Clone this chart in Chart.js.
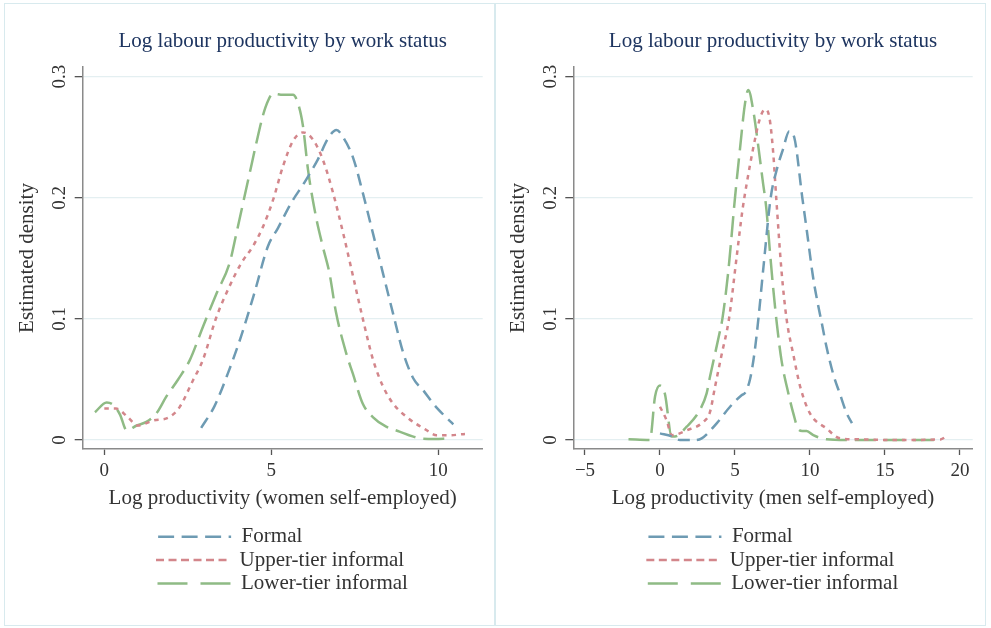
<!DOCTYPE html>
<html>
<head>
<meta charset="utf-8">
<script src="https://cdn.jsdelivr.net/npm/chart.js@4.4.1/dist/chart.umd.min.js"></script>
<style>
	body { margin: 0; background: #fff; }
	.panel { position: absolute; top: 3px; width: 489px; height: 621px; border: 1px solid #d8eaee; }
	.panel canvas { display: block; }
	#left { left: 4px; }
	#right { left: 495px; }
</style>
</head>
<body>
<div class="panel" id="left"><canvas id="womenChart" width="489" height="621"></canvas></div>
<div class="panel" id="right"><canvas id="menChart" width="489" height="621"></canvas></div>
<script>
const seriesLabels = ['Formal', 'Upper-tier informal', 'Lower-tier informal']
const yTicks = [0, 0.1, 0.2, 0.3]
const womenXTicks = [0, 5, 10]
const menXTicks = [-5, 0, 5, 10, 15, 20]

// women self-employed
const womenFormalX = [2.9, 3.3, 3.7, 4.1, 4.5, 4.9, 5.2, 5.6, 6.0, 6.4, 6.7, 6.95, 7.15, 7.45, 7.75, 8.05, 8.35, 8.65, 8.95, 9.25, 9.55, 9.85, 10.15, 10.45]
const womenFormalY = [0.010, 0.028, 0.055, 0.086, 0.122, 0.160, 0.175, 0.196, 0.213, 0.232, 0.249, 0.256, 0.250, 0.233, 0.203, 0.170, 0.137, 0.104, 0.072, 0.051, 0.041, 0.030, 0.021, 0.013]
const womenUpperX = [0.0, 0.35, 0.7, 1.0, 1.45, 1.95, 2.25, 2.65, 2.95, 3.35, 3.75, 4.1, 4.45, 4.75, 5.05, 5.35, 5.65, 5.95, 6.25, 6.55, 6.85, 7.15, 7.45, 7.75, 8.05, 8.35, 8.65, 9.1, 9.6, 9.95, 10.35, 10.8]
const womenUpperY = [0.026, 0.026, 0.019, 0.012, 0.016, 0.019, 0.027, 0.049, 0.066, 0.101, 0.127, 0.146, 0.160, 0.176, 0.198, 0.226, 0.247, 0.254, 0.248, 0.231, 0.204, 0.171, 0.135, 0.099, 0.066, 0.044, 0.030, 0.018, 0.009, 0.004, 0.004, 0.005]
const womenLowerX = [-0.28, 0.07, 0.27, 0.47, 0.67, 0.97, 1.26, 1.56, 1.86, 2.21, 2.56, 2.96, 3.36, 3.75, 3.95, 4.15, 4.35, 4.55, 4.75, 4.9, 5.05, 5.35, 5.65, 5.8, 5.95, 6.1, 6.34, 6.54, 6.74, 6.94, 7.24, 7.44, 7.74, 8.04, 8.44, 8.84, 9.23, 9.53, 9.9, 10.28]
const womenLowerY = [0.023, 0.031, 0.029, 0.021, 0.008, 0.012, 0.015, 0.022, 0.036, 0.050, 0.066, 0.094, 0.121, 0.146, 0.170, 0.195, 0.220, 0.245, 0.268, 0.280, 0.286, 0.285, 0.285, 0.278, 0.259, 0.223, 0.184, 0.160, 0.138, 0.105, 0.072, 0.055, 0.030, 0.019, 0.011, 0.007, 0.003, 0.001, 0.0008, 0.0014]

// men self-employed
const menFormalX = [0, 0.78, 1.33, 2.33, 2.78, 3.78, 4.67, 5.44, 5.67, 6.0, 6.3, 6.56, 6.9, 7.38, 7.78, 8.2, 8.62, 8.95, 9.49, 9.8, 10.2, 10.5, 10.78, 11.1, 11.56, 12.0, 12.45, 12.8]
const menFormalY = [0.0055, 0.003, 0, 0, 0.0014, 0.0138, 0.0275, 0.037, 0.039, 0.05, 0.072, 0.1, 0.143, 0.2, 0.223, 0.24, 0.255, 0.25, 0.2, 0.172, 0.135, 0.114, 0.097, 0.077, 0.054, 0.038, 0.022, 0.014]
const menUpperX = [0, 0.45, 0.78, 1.78, 2.89, 3.33, 3.67, 4.1, 4.6, 5.1, 5.5, 5.8, 6.2, 6.65, 7.0, 7.3, 7.55, 7.75, 8.1, 8.44, 8.9, 9.35, 10.0, 11.1, 12.0, 13.3, 15.6, 18.7, 19.1]
const menUpperY = [0.0275, 0.016, 0.004, 0.008, 0.015, 0.023, 0.044, 0.07, 0.1, 0.15, 0.19, 0.213, 0.24, 0.265, 0.273, 0.266, 0.237, 0.2, 0.14, 0.1, 0.07, 0.044, 0.022, 0.0096, 0.0014, 0.0006, 0, 0.0005, 0.003]
const menLowerX = [-2.1, -0.67, -0.33, 0, 0.33, 0.78, 1.0, 1.78, 2.67, 3.11, 3.33, 4.0, 4.16, 4.56, 5.0, 5.33, 5.67, 5.89, 6.22, 6.56, 6.84, 7.1, 7.3, 7.55, 7.8, 8.1, 8.56, 8.89, 9.22, 9.5, 9.78, 10.22, 11.1, 12.4, 18.7]
const menLowerY = [0.0006, 0, 0.036, 0.045, 0.038, 0.003, 0.003, 0.011, 0.025, 0.0385, 0.052, 0.09, 0.1, 0.14, 0.2, 0.24, 0.278, 0.289, 0.272, 0.242, 0.215, 0.19, 0.16, 0.125, 0.095, 0.066, 0.0385, 0.022, 0.009, 0.0075, 0.0074, 0.004, 0.0006, 0, 0]

const lineColors = ['#6e9bb3', '#d3868b', '#8fbb85']
const plotDashes = [[12, 7], [4.5, 5], [21, 8]]
const legendDashes = [[16, 7.5], [8, 4.5], [30, 13]]
const textColor = '#333'
const legendFont = '21px "Liberation Serif"'

Chart.defaults.font.family = '"Liberation Serif", serif'

function padLabels(ctx, labels) {
	ctx.save()
	ctx.font = legendFont
	const widest = Math.max(...labels.map(t => ctx.measureText(t).width))
	const out = labels.map(t => {
		let s = t
		while (ctx.measureText(s).width < widest - 2) s += ' '
		return s
	})
	ctx.restore()
	return out
}

function buildChart(id, xs, ys, xMin, xMax, xTicks, xTitle, yWidth, rightPad) {
	const datasets = seriesLabels.map((label, i) => ({
		label: label,
		data: xs[i].map((x, j) => ({ x: x, y: ys[i][j] })),
		borderColor: lineColors[i],
		backgroundColor: lineColors[i],
		borderWidth: 2.5,
		borderDash: plotDashes[i],
		pointRadius: 0,
		fill: false,
		cubicInterpolationMode: 'monotone'
	}))

	return new Chart(document.getElementById(id), {
		type: 'line',
		data: { datasets },
		options: {
			responsive: false,
			animation: false,
			layout: { padding: { left: 0, right: rightPad, top: 0, bottom: 21.1 } },
			plugins: {
				tooltip: { enabled: false },
				title: {
					display: true,
					text: 'Log labour productivity by work status',
					fullSize: false,
					color: '#1e3560',
					font: { size: 21, weight: 'normal' },
					padding: { top: 24.5, bottom: 13.3 }
				},
				legend: {
					position: 'bottom',
					fullSize: false,
					align: 'center',
					labels: {
						usePointStyle: true,
						pointStyleWidth: 73,
						padding: 2.3,
						color: textColor,
						font: { size: 21 },
						generateLabels: chart => {
							const texts = padLabels(chart.ctx, seriesLabels)
							return chart.data.datasets.map((ds, i) => ({
								text: texts[i],
								strokeStyle: ds.borderColor,
								fillStyle: ds.borderColor,
								fontColor: textColor,
								lineWidth: 2.5,
								lineDash: legendDashes[i],
								lineCap: 'butt',
								pointStyle: 'line',
								hidden: false,
								datasetIndex: i
							}))
						}
					}
				}
			},
			scales: {
				x: {
					type: 'linear',
					min: xMin,
					max: xMax,
					afterBuildTicks: s => { s.ticks = xTicks.map(v => ({ value: v })) },
					afterFit: s => { s.height = 75 },
					ticks: {
						color: textColor,
						font: { size: 19 },
						padding: 4.4,
						maxRotation: 0,
						autoSkip: false,
						callback: v => v < 0 ? '\u2212' + (-v) : String(v)
					},
					grid: { drawOnChartArea: false, tickLength: 6, tickColor: '#555', tickWidth: 1.3 },
					border: { color: '#8a8a8a', width: 1.5 },
					title: { display: true, text: xTitle, color: textColor, font: { size: 21 }, padding: { top: 0, bottom: 12.9 } }
				},
				y: {
					type: 'linear',
					min: -0.0074,
					max: 0.308,
					afterBuildTicks: s => { s.ticks = yTicks.map(v => ({ value: v })) },
					afterFit: s => { s.width = yWidth },
					ticks: {
						minRotation: 90,
						maxRotation: 90,
						crossAlign: 'center',
						padding: 2.8,
						color: textColor,
						font: { size: 19 },
						autoSkip: false,
						callback: v => String(v)
					},
					grid: { color: '#e4eff1', lineWidth: 1.3, tickLength: 8, tickColor: '#555', tickWidth: 1.3 },
					border: { color: '#8a8a8a', width: 1.5 },
					title: { display: true, text: 'Estimated density', color: textColor, font: { size: 21 }, padding: { top: 9.6, bottom: 0 } }
				}
			}
		}
	})
}

buildChart('womenChart',
	[womenFormalX, womenUpperX, womenLowerX],
	[womenFormalY, womenUpperY, womenLowerY],
	-0.647, 11.33, womenXTicks, 'Log productivity (women self-employed)', 77.7, 11.3)

buildChart('menChart',
	[menFormalX, menUpperX, menLowerX],
	[menFormalY, menUpperY, menLowerY],
	-5.78, 20.85, menXTicks, 'Log productivity (men self-employed)', 77.3, 12.3)
</script>
</body>
</html>
